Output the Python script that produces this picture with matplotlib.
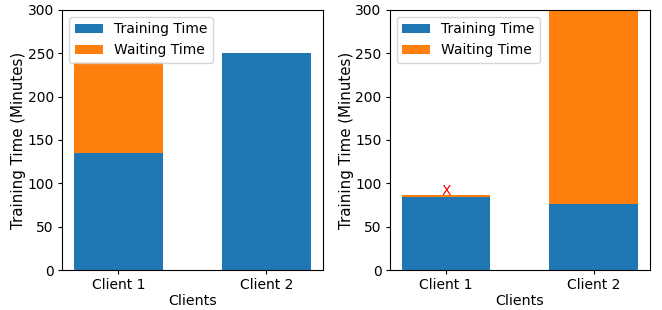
import numpy as np
import matplotlib.pyplot as plt

clients = ["Client 1", "Client 2"]

# left panel
train_a = [135, 250]
wait_a = [105, 0.6]

# right panel
train_b = [84, 76]
wait_b = [2.5, 240]
fail_mark = 91  # red X above client 1

plt.rcParams['font.size'] = 10
plt.rcParams['xtick.major.size'] = 3
plt.rcParams['ytick.major.size'] = 3
plt.rcParams['xtick.major.pad'] = 3
plt.rcParams['ytick.major.pad'] = 3

fig, axes = plt.subplots(1, 2, figsize=(6.62, 3.1), dpi=100)
x = np.arange(len(clients))

for ax, tr, wt in [(axes[0], train_a, wait_a), (axes[1], train_b, wait_b)]:
    ax.bar(x, tr, width=0.6, color='#1f77b4', label='Training Time')
    ax.bar(x, wt, width=0.6, bottom=tr, color='#ff7f0e', label='Waiting Time')
    ax.set_ylim(0, 300)
    ax.set_xticks(x)
    ax.set_xticklabels(clients)
    ax.set_xlabel('Clients', fontsize=10.3, labelpad=1)
    ax.set_ylabel('Training Time (Minutes)', fontsize=10.8, labelpad=1)
    ax.legend(loc='upper left')

axes[1].text(0, fail_mark, 'X', color='red', ha='center', va='center', fontsize=10)

plt.subplots_adjust(left=0.094, right=0.982, top=0.968, bottom=0.129, wspace=0.258)
plt.savefig('out.png')
